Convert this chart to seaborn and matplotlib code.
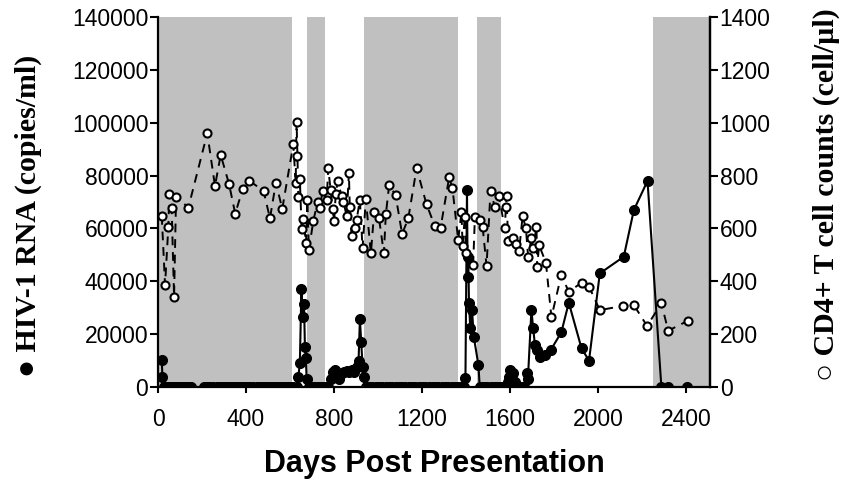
import matplotlib
matplotlib.use("Agg")
import matplotlib.pyplot as plt
import pandas as pd
import seaborn as sns

# HIV-1 RNA (filled circles, left axis)
rna_days = [17, 20, 27, 34, 41, 48, 55, 62, 69, 76, 83, 90, 100, 110, 120, 130, 140, 150,
            210, 224, 238, 252, 266, 280, 294, 308, 322, 336, 350, 364, 378, 392, 406, 420,
            434, 448, 462, 476, 490, 504, 518, 532, 546, 560, 574, 588, 602, 616, 630,
            638, 645, 652, 658, 664, 668, 672, 676, 685,
            690, 700, 712, 724, 736, 748, 760, 772,
            785, 795, 805, 815, 825, 835, 845, 858, 870, 880, 893, 903, 912, 918, 924, 930, 938,
            945, 960, 975, 990, 1005, 1020, 1035, 1050, 1065, 1080, 1095, 1110, 1125, 1140,
            1155, 1170, 1185, 1200, 1215, 1230, 1245, 1260, 1275, 1290, 1305, 1320, 1335,
            1350, 1365, 1380, 1390,
            1398, 1405, 1408, 1411, 1414, 1420, 1428, 1436, 1457, 1463,
            1470, 1484, 1498, 1512, 1526, 1540, 1554, 1568, 1582,
            1592, 1597, 1602, 1610, 1615, 1625, 1635, 1645, 1655, 1665, 1676, 1682,
            1698, 1706, 1714, 1724, 1736, 1759, 1786, 1834, 1868, 1926, 1960, 2009,
            2118, 2164, 2226, 2289, 2320, 2407]
rna_vals = [10200, 3900, 0, 0, 0, 0, 0, 0, 0, 0, 0, 0, 0, 0, 0, 0, 0, 0,
            0, 0, 0, 0, 0, 0, 0, 0, 0, 0, 0, 0, 0, 0, 0, 0,
            0, 0, 0, 0, 0, 0, 0, 0, 0, 0, 0, 0, 0, 0, 0,
            3900, 9000, 37000, 26600, 31400, 15200, 11000, 3000, 0,
            0, 0, 0, 0, 0, 0, 0, 0,
            3000, 5500, 6400, 4500, 3000, 5200, 5800, 6200, 5500, 6400, 5800, 7700, 10000,
            25600, 17100, 7700, 3900,
            0, 0, 0, 0, 0, 0, 0, 0, 0, 0, 0, 0, 0, 0,
            0, 0, 0, 0, 0, 0, 0, 0, 0, 0, 0, 0, 0,
            0, 0, 0, 0,
            3300, 74500, 41700, 49300, 31700, 22200, 29100, 19000, 8300, 0,
            0, 0, 0, 0, 0, 0, 0, 0, 0,
            2000, 3900, 6400, 4500, 5200, 2000, 0, 0, 0, 0, 5200, 3000,
            29100, 22200, 15900, 14000, 11200, 12100, 14000, 20700, 31900, 14600, 10000, 43000,
            49300, 67000, 78000, 0, 0, 0]

# CD4+ T cell counts (open circles, right axis)
cd4_days = [17, 32, 47, 51, 62, 73, 82, 138, 224, 259, 285, 323, 351, 385, 414, 480, 509,
            536, 565, 615, 626, 630, 634, 638, 645, 653, 661, 673, 679, 686, 706, 726, 736,
            748, 767, 774, 785, 794, 801, 808, 817, 835, 843, 858, 868, 872, 880, 895, 903,
            918, 930, 945, 968, 983, 1005, 1027, 1036, 1051, 1080, 1110, 1138, 1176, 1221,
            1259, 1285, 1324, 1339, 1365, 1380, 1385, 1395, 1400, 1433, 1441, 1464, 1476,
            1494, 1512, 1532, 1550, 1577, 1582, 1585, 1592, 1615, 1630, 1642, 1658, 1673,
            1683, 1698, 1706, 1721, 1724, 1733, 1764, 1789, 1834, 1868, 1926, 1960, 2009,
            2115, 2164, 2224, 2289, 2320, 2410]
cd4_vals = [647, 386, 607, 729, 676, 342, 720, 679, 960, 761, 878, 768, 656, 749, 781, 742, 638,
            773, 674, 918, 773, 1004, 875, 718, 786, 597, 635, 544, 708, 518, 628, 701, 676,
            742, 708, 828, 745, 672, 628, 729, 779, 723, 701, 647, 809, 682, 571, 600, 632,
            708, 525, 710, 506, 663, 638, 506, 653, 764, 727, 579, 638, 828, 691,
            609, 603, 794, 752, 556, 663, 534, 644, 508, 462, 644, 632, 607,
            458, 742, 680, 723, 600, 682, 723, 552, 565, 540, 516, 647, 600,
            493, 563, 525, 607, 455, 537, 470, 264, 424, 360, 395, 380, 291,
            307, 310, 231, 317, 213, 251]

# treatment periods (grey bands)
band_start = [0, 676, 938, 1449, 2251]
band_end = [610, 759, 1365, 1558, 2510]

rna = pd.DataFrame({"day": rna_days, "rna": rna_vals})
cd4 = pd.DataFrame({"day": cd4_days, "cd4": cd4_vals})

sns.set_style("ticks", {'axes.edgecolor': 'black', 'text.color': 'black',
                        'axes.labelcolor': 'black', 'xtick.color': 'black',
                        'ytick.color': 'black'})
plt.rcParams['font.family'] = ['Liberation Sans', 'DejaVu Sans']

fig = plt.figure(figsize=(8.41, 4.80), dpi=100)
ax = fig.add_axes([0.1879, 0.1937, 0.6563, 0.7709])

for s, e in zip(band_start, band_end):
    ax.axvspan(s, e, color='#c0c0c0', lw=0, zorder=0)

sns.lineplot(data=rna, x='day', y='rna', ax=ax, estimator=None, sort=False,
             color='black', lw=1.5, marker='o', markersize=7.2,
             markerfacecolor='black', markeredgecolor='black', zorder=3)

ax2 = ax.twinx()
sns.lineplot(data=cd4, x='day', y='cd4', ax=ax2, estimator=None, sort=False,
             color='black', lw=1.4, dashes=False, linestyle=(0, (4.5, 3.5)), marker='o',
             markersize=5.8, markerfacecolor='white', markeredgecolor='black',
             markeredgewidth=1.5, zorder=3)

ax.set_xlim(0, 2510)
ax.set_ylim(0, 140000)
ax2.set_ylim(0, 1400)
ax.set_xticks(range(0, 2401, 400))
ax.set_yticks(range(0, 140001, 20000))
ax2.set_yticks(range(0, 1401, 200))

for a in (ax, ax2):
    a.spines['top'].set_visible(False)
    for sp in a.spines.values():
        sp.set_linewidth(1.6)
        sp.set_color('black')
    a.tick_params(axis='y', direction='out', length=6, width=1.5, labelsize=16.5, pad=1,
                  colors='black')
ax.tick_params(axis='x', direction='out', length=4, width=1.5, labelsize=16.5, pad=11,
               colors='black')
ax2.spines['left'].set_visible(False)
ax2.spines['bottom'].set_visible(False)

ax.set_xlabel('Days Post Presentation', fontsize=22, fontweight='bold', labelpad=13,
              color='black')
ax.set_ylabel('\u25cf HIV-1 RNA (copies/ml)', fontsize=21.5, fontweight='bold',
              family=['Liberation Serif', 'DejaVu Serif'], color='black')
ax.yaxis.set_label_coords(-0.210, 0.462)
ax2.set_ylabel('\u25cb CD4+ T cell counts (cell/\u00b5l)', fontsize=21.5, fontweight='bold',
               family=['Liberation Serif', 'DejaVu Serif'], rotation=90, color='black')
ax2.yaxis.set_label_coords(1.1866, 0.519)

fig.savefig('out.png', dpi=100)
